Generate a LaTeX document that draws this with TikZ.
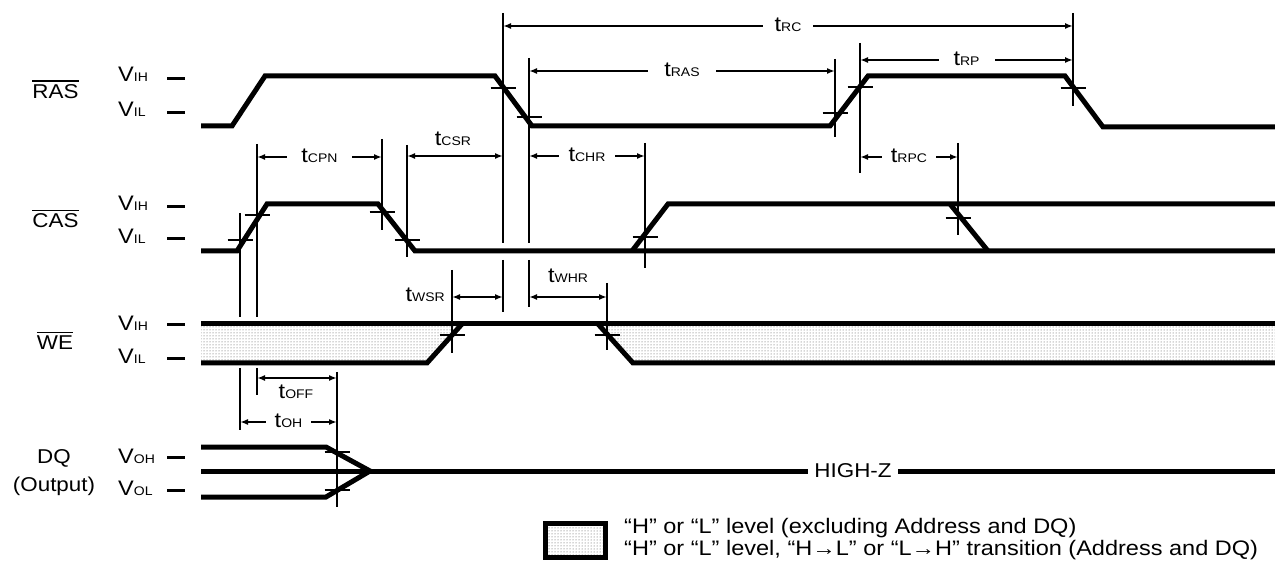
\documentclass[tikz,border=0pt]{standalone}
\usepackage{fontspec}
\setmainfont{Liberation Sans}[FakeStretch=1.12]
\usetikzlibrary{arrows.meta,patterns}
\newcommand\lbl[2]{{\fontsize{21}{21}\selectfont #1}{\fontsize{12.5}{12.5}\selectfont #2}}
\newcommand\ovl[1]{\leavevmode\vbox{\hrule height 1.4pt\kern 3pt\hbox{#1}}}
\tikzset{
  sig/.style={line width=5pt},
  vl/.style={line width=2.6pt},
  tk/.style={line width=2.8pt},
  lvl/.style={line width=3pt},
  dim/.style={line width=1.8pt,{Latex[length=8pt,width=6pt]}-{Latex[length=8pt,width=6pt]}},
  gap/.style={midway,fill=white,inner xsep=12pt,inner ysep=0pt,text height=12pt,text depth=0pt},
  sname/.style={font=\fontsize{20}{20}\selectfont,anchor=base,inner sep=0pt},
  vlab/.style={anchor=base west,inner sep=0pt},
  tlab/.style={anchor=base,inner sep=0pt},
  shade/.style={pattern=dots,pattern color=black!70}
}
\begin{document}
\begin{tikzpicture}[x=1pt,y=-1pt]
\useasboundingbox (0,0) rectangle (1275,561);
% ---------- left labels
\node[sname] (nras) at (55.5,98.5) {\ovl{RAS}};
\node[sname] (ncas) at (55.5,228) {\ovl{CAS}};
\node[sname] (nwe) at (55,350) {\ovl{WE}};
\node[sname] (ndq) at (54,463) {DQ};
\node[sname] (nout) at (54,491) {(Output)};
\node[vlab] (rvih) at (118,82) {\lbl{V}{IH}};
\node[vlab] (rvil) at (118,117) {\lbl{V}{IL}};
\node[vlab] (cvih) at (118,211) {\lbl{V}{IH}};
\node[vlab] (cvil) at (118,244) {\lbl{V}{IL}};
\node[vlab] (wvih) at (118,331) {\lbl{V}{IH}};
\node[vlab] (wvil) at (118,363) {\lbl{V}{IL}};
\node[vlab] (dvoh) at (118,463) {\lbl{V}{OH}};
\node[vlab] (dvol) at (118,495) {\lbl{V}{OL}};
\foreach \y in {79,113,207,239,325,359,457,490}
  \draw[lvl] (167,\y) -- (185,\y);
% ---------- WE shading
\fill[shade] (201,324) -- (462,324) -- (427,363) -- (201,363) -- cycle;
\fill[shade] (598,324) -- (1275,324) -- (1275,363) -- (633,363) -- cycle;
% ---------- signals
\draw[sig] (201,126) -- (232,126) -- (265,76) -- (495,76) -- (532,126) -- (830,126)
  -- (868,76) -- (1065,76) -- (1103,127) -- (1275,127);
\draw[sig] (201,251) -- (237,251) -- (267,204) -- (378,204) -- (415,251) -- (1275,251);
\draw[sig] (632,251) -- (668,204) -- (1275,204);
\draw[sig] (950,204) -- (988,251);
\draw[sig] (201,324) -- (1275,324);
\draw[sig] (201,363) -- (427,363) -- (462,324);
\draw[sig] (598,324) -- (633,363) -- (1275,363);
\draw[sig] (201,447) -- (326,447) -- (370,471) -- (326,497) -- (201,497);
\draw[sig] (201,471) -- (808,471);
\draw[sig] (898,471) -- (1275,471);
\node[tlab,font=\fontsize{20}{20}\selectfont] (hz) at (853,477) {HIGH-Z};
% ---------- vertical reference lines
\draw[vl] (240,213) -- (240,317) (240,368) -- (240,430);
\draw[vl] (257,144) -- (257,317) (257,368) -- (257,395);
\draw[vl] (382,139) -- (382,230);
\draw[vl] (407,145) -- (407,257);
\draw[vl] (452,270) -- (452,353);
\draw[vl] (503,13) -- (503,243) (503,260) -- (503,312);
\draw[vl] (529,58) -- (529,243) (529,260) -- (529,307);
\draw[vl] (607,283) -- (607,350);
\draw[vl] (645,143) -- (645,268);
\draw[vl] (835,59) -- (835,137);
\draw[vl] (860,43) -- (860,173);
\draw[vl] (958,143) -- (958,235);
\draw[vl] (1073,13) -- (1073,106);
\draw[vl] (337,372) -- (337,507);
% ---------- crossing ticks
\foreach \x/\y in {503/88,529/117,835/113,860/87,1073/88,
                   240/240,257/215,382/212,407/240,645/237,958/218,
                   452/335,607/335,337/452,337/490}
  \draw[tk] (\x-12.5,\y) -- (\x+12.5,\y);
% ---------- dimension arrows
\draw[dim] (503,26) -- (1073,26) node[gap] (trc) {\lbl{t}{RC}};
\draw[dim] (529,71) -- (835,71) node[gap,inner xsep=16pt] (tras) {\lbl{t}{RAS}};
\draw[dim] (860,60) -- (1073,60) node[gap,inner xsep=15pt] (trp) {\lbl{t}{RP}};
\draw[dim] (860,157) -- (958,157) node[gap,inner xsep=9pt] (trpc) {\lbl{t}{RPC}};
\draw[dim] (257,157) -- (382,157) node[gap,inner xsep=14pt] (tcpn) {\lbl{t}{CPN}};
\draw[dim] (407,156) -- (503,156);
\node[tlab] (tcsr) at (453,146) {\lbl{t}{CSR}};
\draw[dim] (529,156) -- (645,156) node[gap,inner xsep=10pt] (tchr) {\lbl{t}{CHR}};
\draw[dim] (452,297) -- (503,297);
\node[anchor=base east,inner sep=0pt] (twsr) at (445,302) {\lbl{t}{WSR}};
\draw[dim] (529,297) -- (607,297);
\node[tlab] (twhr) at (568,283) {\lbl{t}{WHR}};
\draw[dim] (257,378) -- (337,378);
\node[tlab] (toff) at (296,399) {\lbl{t}{OFF}};
\draw[dim] (240,422) -- (337,422) node[gap,inner xsep=9pt] (toh) {\lbl{t}{OH}};
% ---------- legend
\draw[line width=5pt,shade] (545.5,523.5) rectangle (605.5,557.5);
\node[anchor=north west,inner sep=0pt,align=left,font=\fontsize{21}{22}\selectfont] (leg) at (624,517.7)
  {“H” or “L” level (excluding Address and DQ)\\
   “H” or “L” level, “H→L” or “L→H” transition (Address and DQ)};
\end{tikzpicture}
\end{document}
